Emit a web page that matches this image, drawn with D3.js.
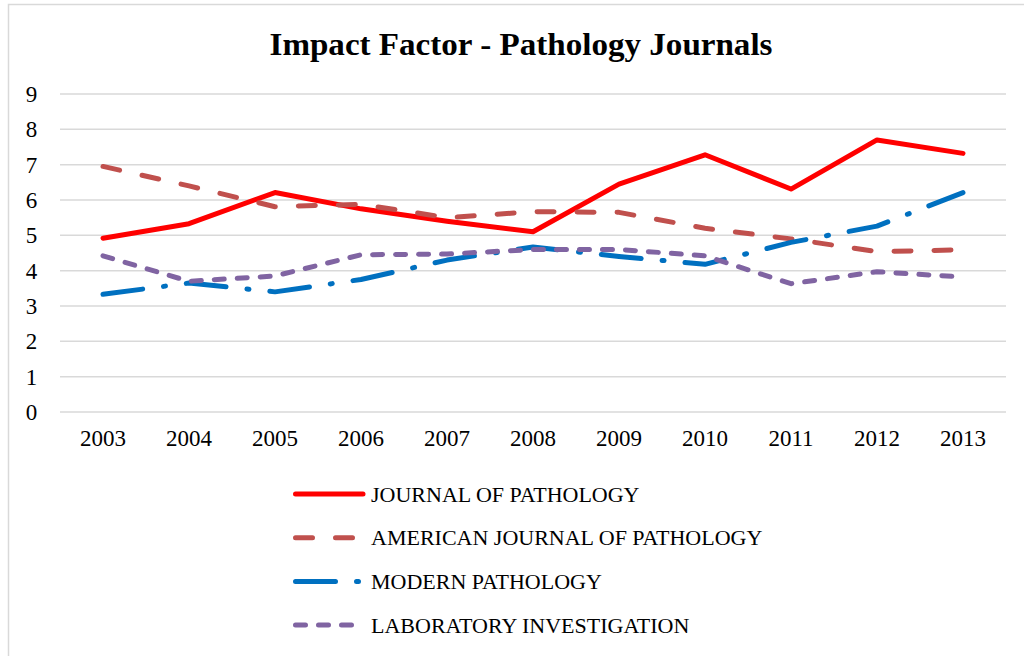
<!DOCTYPE html>
<html lang="en">
  <head>
    <meta charset="UTF-8" />
    <title>Impact Factor - Pathology Journals</title>
    <style>
      body { margin: 0; background: #fff; }
      svg { display: block; font-family: "Liberation Serif", "DejaVu Serif", serif; }
    </style>
  </head>
  <body>
    <div id="chart"></div>
    <script src="https://d3js.org/d3.v7.min.js"></script>
    <script>
      const years = ["2003", "2004", "2005", "2006", "2007", "2008", "2009", "2010", "2011", "2012", "2013"];
      const yTicks = [0, 1, 2, 3, 4, 5, 6, 7, 8, 9];

      const journalOfPathology = [4.92, 5.33, 6.21, 5.75, 5.4, 5.1, 6.45, 7.28, 6.31, 7.7, 7.32];
      const americanJournal = [6.95, 6.4, 5.81, 5.88, 5.5, 5.67, 5.65, 5.2, 4.9, 4.54, 4.59];
      const modernPathology = [3.33, 3.65, 3.4, 3.75, 4.3, 4.67, 4.4, 4.18, 4.8, 5.26, 6.21];
      const labInvestigation = [4.42, 3.7, 3.85, 4.45, 4.47, 4.6, 4.6, 4.42, 3.63, 3.97, 3.82];

      const series = [
        { name: "JOURNAL OF PATHOLOGY", values: journalOfPathology, color: "#ff0000", dash: null },
        { name: "AMERICAN JOURNAL OF PATHOLOGY", values: americanJournal, color: "#c0504d", dash: "17,23" },
        { name: "MODERN PATHOLOGY", values: modernPathology, color: "#0070c0", dash: "40,21,2,21" },
        { name: "LABORATORY INVESTIGATION", values: labInvestigation, color: "#8064a2", dash: "10,13" }
      ];

      const width = 1024, height = 656;
      const svg = d3.select("#chart").append("svg")
        .attr("width", width)
        .attr("height", height);

      // outer chart border (only top and left show in frame)
      svg.append("rect")
        .attr("x", 8.5).attr("y", 4.5)
        .attr("width", 1030).attr("height", 700)
        .attr("fill", "none")
        .attr("stroke", "#d9d9d9")
        .attr("stroke-width", 1.5);

      svg.append("text")
        .attr("x", 521).attr("y", 55)
        .attr("text-anchor", "middle")
        .attr("font-weight", "bold")
        .attr("font-size", 31)
        .attr("textLength", 503)
        .attr("lengthAdjust", "spacingAndGlyphs")
        .attr("fill", "#000")
        .text("Impact Factor - Pathology Journals");

      const x = d3.scaleBand().domain(years).range([60, 1006]);
      const y = d3.scaleLinear().domain([0, 9]).range([412, 94]);

      // gridlines
      svg.append("g")
        .selectAll("line")
        .data(yTicks)
        .join("line")
        .attr("x1", 60).attr("x2", 1006)
        .attr("y1", d => y(d)).attr("y2", d => y(d))
        .attr("stroke", "#d9d9d9")
        .attr("stroke-width", 1.5);

      const yAxis = svg.append("g")
        .attr("transform", "translate(31.5,0)")
        .call(d3.axisLeft(y).tickValues(yTicks).tickSize(0).tickPadding(0));
      yAxis.select(".domain").remove();
      yAxis.selectAll("text")
        .attr("font-size", 23)
        .attr("font-family", "Liberation Serif, serif")
        .attr("fill", "#000")
        .attr("text-anchor", "middle");

      const xAxis = svg.append("g")
        .attr("transform", "translate(0,429)")
        .call(d3.axisBottom(x).tickSize(0).tickPadding(0));
      xAxis.select(".domain").remove();
      xAxis.selectAll("text")
        .attr("font-size", 23)
        .attr("font-family", "Liberation Serif, serif")
        .attr("fill", "#000")
        .attr("dy", "0.75em");

      const line = d3.line()
        .x((d, i) => x(years[i]) + x.bandwidth() / 2)
        .y(d => y(d));

      svg.append("g")
        .selectAll("path")
        .data(series)
        .join("path")
        .attr("d", d => line(d.values))
        .attr("fill", "none")
        .attr("stroke", d => d.color)
        .attr("stroke-width", 5)
        .attr("stroke-linecap", "round")
        .attr("stroke-linejoin", "round")
        .attr("stroke-dasharray", d => d.dash);

      const legend = svg.append("g")
        .selectAll("g")
        .data(series)
        .join("g")
        .attr("transform", (d, i) => `translate(0,${494 + i * 43.7})`);

      legend.append("line")
        .attr("x1", 295.5).attr("x2", 363)
        .attr("stroke", d => d.color)
        .attr("stroke-width", 5)
        .attr("stroke-linecap", "round")
        .attr("stroke-dasharray", d => d.dash);

      legend.append("text")
        .attr("x", 371)
        .attr("dy", "0.35em")
        .attr("font-size", 22)
        .attr("fill", "#000")
        .text(d => d.name);
    </script>
  </body>
</html>
